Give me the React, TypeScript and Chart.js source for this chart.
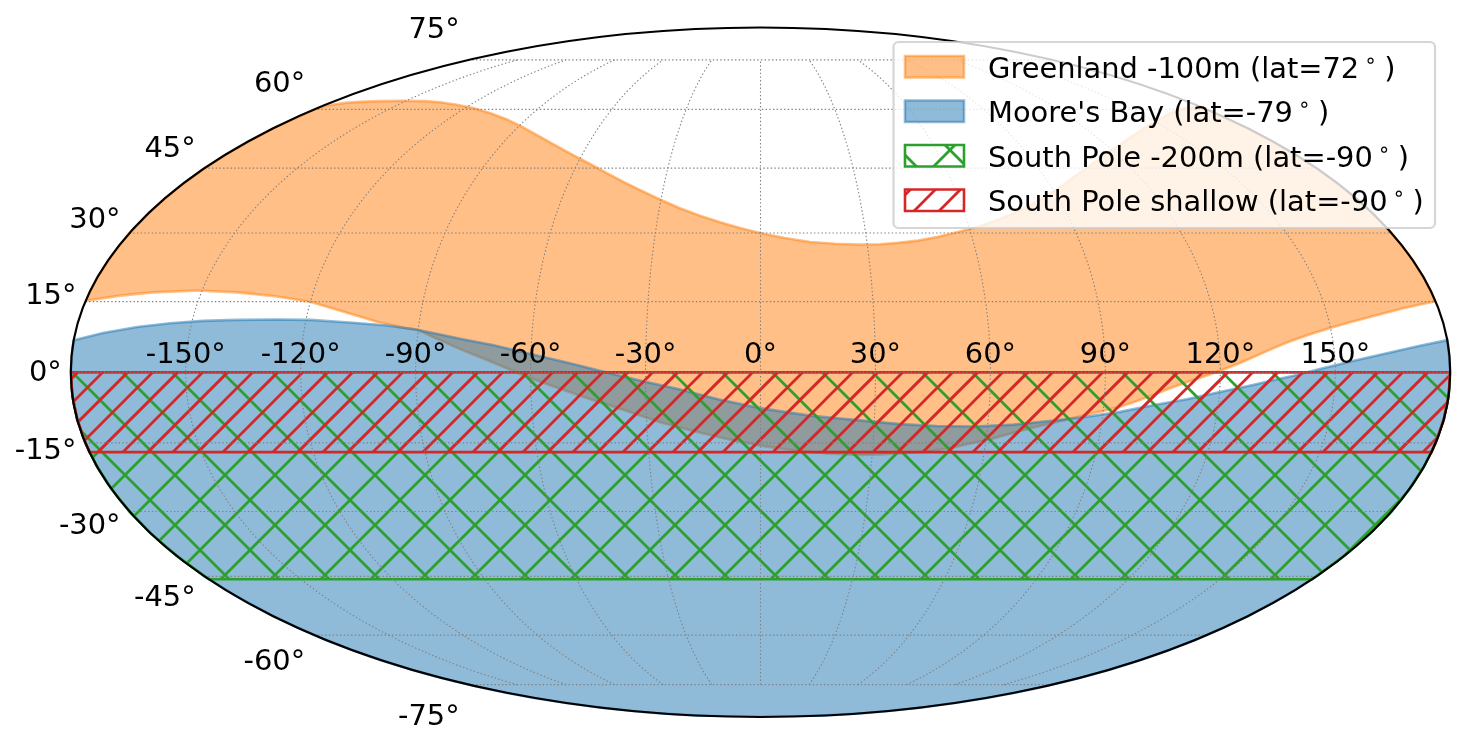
import React, { useEffect, useRef } from "react";
import { Chart, registerables } from "chart.js";

Chart.register(...registerables);

// Sky coverage boundaries, degrees (longitude, latitude).
const greenlandUpperLon = [-180,-178.8,-173.6,-168.5,-160.9,-151.4,-141.7,-134.5,-125.7,-116.8,-107.1,-97.3,-88.0,-78.9,-70.4,-63.0,-55.8,-49.1,-43.1,-37.0,-30.3,-23.9,-17.7,-11.7,-5.9,-0.1,6.9,14.0,21.0,28.0,33.6,38.7,44.5,50.1,55.8,61.7,67.5,73.2,79.2,85.8,92.7,100.7,109.2,118.7,129.4,140.9,154.0,162.1,167.4,172.5,176.7,180];
const greenlandUpperLat = [60.4,61.1,61.8,62.1,62.3,62.4,62.3,62.0,61.3,60.4,59.0,57.3,55.2,52.8,50.4,48.2,46.0,43.8,41.8,39.8,37.6,35.6,33.9,32.4,31.1,30.0,28.9,28.0,27.6,27.4,27.5,27.8,28.3,29.1,30.1,31.2,32.6,34.1,35.9,38.1,40.5,43.4,46.2,49.1,52.0,54.8,57.5,59.0,59.8,60.4,60.7,60.4];
const greenlandLowerLon = [180,174.9,170.7,166.0,161.1,155.5,149.9,143.7,137.9,133.3,128.7,124.4,119.9,115.7,111.3,107.0,102.7,98.6,94.3,88.4,82.8,77.4,71.8,66.9,62.1,56.4,50.2,44.1,36.9,32.1,26.7,17.9,8.7,-0.1,-8.9,-17.6,-26.5,-35.1,-43.9,-52.4,-60.9,-69.6,-78.6,-84.0,-90.3,-94.1,-101.2,-110.7,-120.1,-129.3,-140.4,-151.3,-163.0,-171.4,-180];
const greenlandLowerLat = [15.1,14.3,13.6,12.7,11.7,10.6,9.4,7.9,6.3,4.8,3.2,1.7,0.3,-0.9,-2.1,-3.4,-4.8,-6.1,-7.3,-8.5,-9.6,-10.7,-11.8,-12.9,-14.0,-15.1,-16.2,-16.9,-17.3,-17.5,-17.6,-17.3,-16.6,-15.6,-14.2,-12.5,-10.6,-8.2,-5.9,-3.5,-1.0,2.0,4.9,6.8,9.0,9.5,10.7,12.9,15.0,16.1,17.0,17.4,17.0,16.3,15.2];
const mooreUpperLon = [-180,-172.7,-164.1,-155.7,-147.1,-138.2,-127.7,-118.9,-107.5,-98.4,-90.3,-84.1,-78.8,-69.8,-61.0,-50.3,-39.3,-30.7,-21.8,-11.1,-0.1,6.4,13.0,19.6,26.2,36.8,46.6,56.7,66.9,76.8,85.4,94.4,102.9,111.6,120.1,128.6,134.3,140.0,146.0,154.7,163.7,172.6,180];
const mooreUpperLat = [6.8,8.3,9.6,10.4,10.9,11.1,11.2,11.1,10.5,9.9,9.0,8.0,7.1,5.7,4.0,2.0,-0.2,-1.9,-3.5,-5.7,-7.6,-8.4,-9.2,-9.7,-10.2,-11.0,-11.4,-11.5,-11.1,-10.3,-9.5,-8.4,-7.0,-5.7,-4.2,-2.7,-1.6,-0.6,0.7,2.4,4.0,5.6,6.8];

const greenlandEdgeLats = [55, 50, 45, 40, 35, 30, 25, 20];
const mooreEdgeLats = [5, 0, -5, -10, -15, -20, -25, -30, -35, -40, -45, -50, -55, -60, -62, -64, -66, -68, -70, -72, -74, -76, -78, -80, -82, -84, -86, -87, -88, -89, -89.5, -90];
const poleEdgeLats = [-5, -10, -15, -20, -25, -30, -35, -40];
const shallowEdgeLats = [-5, -10, -15];
const deepBottomLat = -45.7;
const shallowBottomLat = -17;

const latTicks = [75, 60, 45, 30, 15, 0, -15, -30, -45, -60, -75];
const lonTicks = [-150, -120, -90, -60, -30, 0, 30, 60, 90, 120, 150];

const labels = [
  "Greenland -100m (lat=72∘)",
  "Moore's Bay (lat=-79∘)",
  "South Pole -200m (lat=-90∘)",
  "South Pole shallow (lat=-90∘)",
];
const ORANGE = "rgba(255,127,14,0.5)";
const BLUE = "rgba(31,119,180,0.5)";
const GREEN = "#2ca02c";
const RED = "#d62728";

function mollweide(lon: number, lat: number) {
  const phi = (lat * Math.PI) / 180;
  let th = phi;
  if (Math.abs(lat) < 90) {
    for (let i = 0; i < 60; i++) {
      const d = 2 * th + Math.sin(2 * th) - Math.PI * Math.sin(phi);
      const dp = 2 + 2 * Math.cos(2 * th);
      if (dp < 1e-9) break;
      th -= d / dp;
    }
  }
  return {
    x: ((2 * Math.SQRT2) / 180) * lon * Math.cos(th),
    y: Math.SQRT2 * Math.sin(th),
  };
}
const toXY = (pts: number[][]) => pts.map((p) => mollweide(p[0], p[1]));
const zip = (lons: number[], lats: number[]) => lons.map((l, i) => [l, lats[i]]);

function hatch(size: number, color: string, both: boolean) {
  const c = document.createElement("canvas");
  c.width = size;
  c.height = size;
  const g = c.getContext("2d")!;
  g.strokeStyle = color;
  g.lineWidth = 2.7;
  for (const o of [-size, 0, size]) {
    g.beginPath();
    g.moveTo(size + o + 5, -5);
    g.lineTo(o - 5, size + 5);
    g.stroke();
    if (both) {
      g.beginPath();
      g.moveTo(o - 5, -5);
      g.lineTo(size + o + 5, size + 5);
      g.stroke();
    }
  }
  return g.createPattern(c, "repeat")!;
}

const FONT = "28.9px 'DejaVu Sans'";

function App() {
  const ref = useRef<HTMLCanvasElement>(null);
  useEffect(() => {
    document.body.style.margin = "0";
    const greenHatch = hatch(50, GREEN, true);
    const redHatch = hatch(25, RED, false);

    const greenlandUpper = zip(greenlandUpperLon, greenlandUpperLat);
    const greenlandLower = zip(greenlandLowerLon, greenlandLowerLat);
    const mooreUpper = zip(mooreUpperLon, mooreUpperLat);
    const greenlandPoly = [
      ...greenlandUpper,
      ...greenlandEdgeLats.map((l) => [180, l]),
      ...greenlandLower,
      ...greenlandEdgeLats.slice().reverse().map((l) => [-180, l]),
      greenlandUpper[0],
    ];
    const moorePoly = [
      ...mooreUpper,
      ...mooreEdgeLats.map((l) => [180, l]),
      ...mooreEdgeLats.slice().reverse().map((l) => [-180, l]),
      mooreUpper[0],
    ];
    const bandPoly = (edge: number[], bottom: number) => [
      [-180, 0],
      [180, 0],
      ...edge.map((l) => [180, l]),
      [180, bottom],
      [-180, bottom],
      ...edge.slice().reverse().map((l) => [-180, l]),
      [-180, 0],
    ];

    const base = { showLine: true, pointRadius: 0, borderWidth: 2.6, fill: "shape", tension: 0 };
    const axesPlugin = {
      id: "mollweideAxes",
      afterDatasetsDraw(chart: any) {
        const { ctx, scales } = chart;
        const px = (p: { x: number; y: number }) => [scales.x.getPixelForValue(p.x), scales.y.getPixelForValue(p.y)];
        ctx.save();
        ctx.strokeStyle = "#808080";
        ctx.lineWidth = 1.1;
        ctx.setLineDash([1.4, 2.3]);
        for (const lat of latTicks) {
          const a = px(mollweide(-180, lat));
          const b = px(mollweide(180, lat));
          ctx.beginPath();
          ctx.moveTo(a[0], a[1]);
          ctx.lineTo(b[0], b[1]);
          ctx.stroke();
        }
        for (const lon of lonTicks.concat()) {
          ctx.beginPath();
          for (let lat = -75; lat <= 75; lat += 1) {
            const a = px(mollweide(lon, lat));
            if (lat === -75) ctx.moveTo(a[0], a[1]);
            else ctx.lineTo(a[0], a[1]);
          }
          ctx.stroke();
        }
        ctx.setLineDash([]);
        const c = px({ x: 0, y: 0 });
        const r = px({ x: 2 * Math.SQRT2, y: Math.SQRT2 });
        ctx.strokeStyle = "#000";
        ctx.lineWidth = 2.2;
        ctx.beginPath();
        ctx.ellipse(c[0], c[1], r[0] - c[0], c[1] - r[1], 0, 0, Math.PI * 2);
        ctx.stroke();

        ctx.fillStyle = "#000";
        ctx.font = FONT;
        ctx.textBaseline = "alphabetic";
        ctx.textAlign = "center";
        for (const lon of lonTicks) {
          const a = px(mollweide(lon, 0));
          ctx.fillText(`${lon}°`, a[0], a[1] - 9);
        }
        ctx.textAlign = "right";
        for (const lat of latTicks) {
          const a = px(mollweide(-180, lat));
          const y = c[1] + (a[1] - c[1]) * 1.1;
          ctx.fillText(`${lat}°`, a[0] - 9, y + 9);
        }
        ctx.restore();
      },
      afterDraw(chart: any) {
        const { ctx } = chart;
        ctx.save();
        ctx.beginPath();
        ctx.roundRect(893.5, 42, 541.5, 186, 5);
        ctx.fillStyle = "rgba(255,255,255,0.8)";
        ctx.fill();
        ctx.strokeStyle = "rgba(204,204,204,0.8)";
        ctx.lineWidth = 2.2;
        ctx.stroke();
        const rows = [77.5, 122, 166.5, 211];
        const strokes = [ORANGE, BLUE, GREEN, RED];
        const fills = [ORANGE, BLUE, greenHatch, redHatch];
        rows.forEach((b, i) => {
          ctx.beginPath();
          ctx.rect(905, b - 21.5, 59, 21.5);
          ctx.fillStyle = fills[i];
          ctx.fill();
          ctx.strokeStyle = strokes[i];
          ctx.lineWidth = 2.6;
          ctx.stroke();
          const [head, tail] = labels[i].split("∘");
          ctx.fillStyle = "#000";
          ctx.textAlign = "left";
          ctx.textBaseline = "alphabetic";
          ctx.font = FONT;
          ctx.fillText(head, 988, b);
          const w = ctx.measureText(head).width;
          ctx.fillText(tail, 988 + w + 25, b);
          ctx.font = "20.2px 'DejaVu Sans'";
          ctx.fillText("∘", 988 + w + 5, b - 11);
        });
        ctx.restore();
      },
    };

    const chart = new Chart(ref.current!, {
      type: "scatter",
      data: {
        datasets: [
          { ...base, label: labels[0], order: 4, data: toXY(greenlandPoly), backgroundColor: ORANGE, borderColor: ORANGE },
          { ...base, label: labels[1], order: 3, data: toXY(moorePoly), backgroundColor: BLUE, borderColor: BLUE },
          { ...base, label: labels[2], order: 2, data: toXY(bandPoly(poleEdgeLats, deepBottomLat)), backgroundColor: greenHatch, borderColor: GREEN },
          { ...base, label: labels[3], order: 1, data: toXY(bandPoly(shallowEdgeLats, shallowBottomLat)), backgroundColor: redHatch, borderColor: RED },
        ] as any,
      },
      options: {
        animation: false,
        responsive: false,
        devicePixelRatio: 1,
        layout: { padding: { left: 70.75, right: 13.75, top: 27.5, bottom: 28 } },
        plugins: { legend: { display: false }, tooltip: { enabled: false } },
        scales: {
          x: { type: "linear", display: false, min: -2 * Math.SQRT2, max: 2 * Math.SQRT2 },
          y: { type: "linear", display: false, min: -Math.SQRT2, max: Math.SQRT2 },
        },
      },
      plugins: [axesPlugin],
    } as any);
    return () => chart.destroy();
  }, []);
  return <canvas ref={ref} width={1464} height={745} style={{ display: "block" }} />;
}

export default App;
